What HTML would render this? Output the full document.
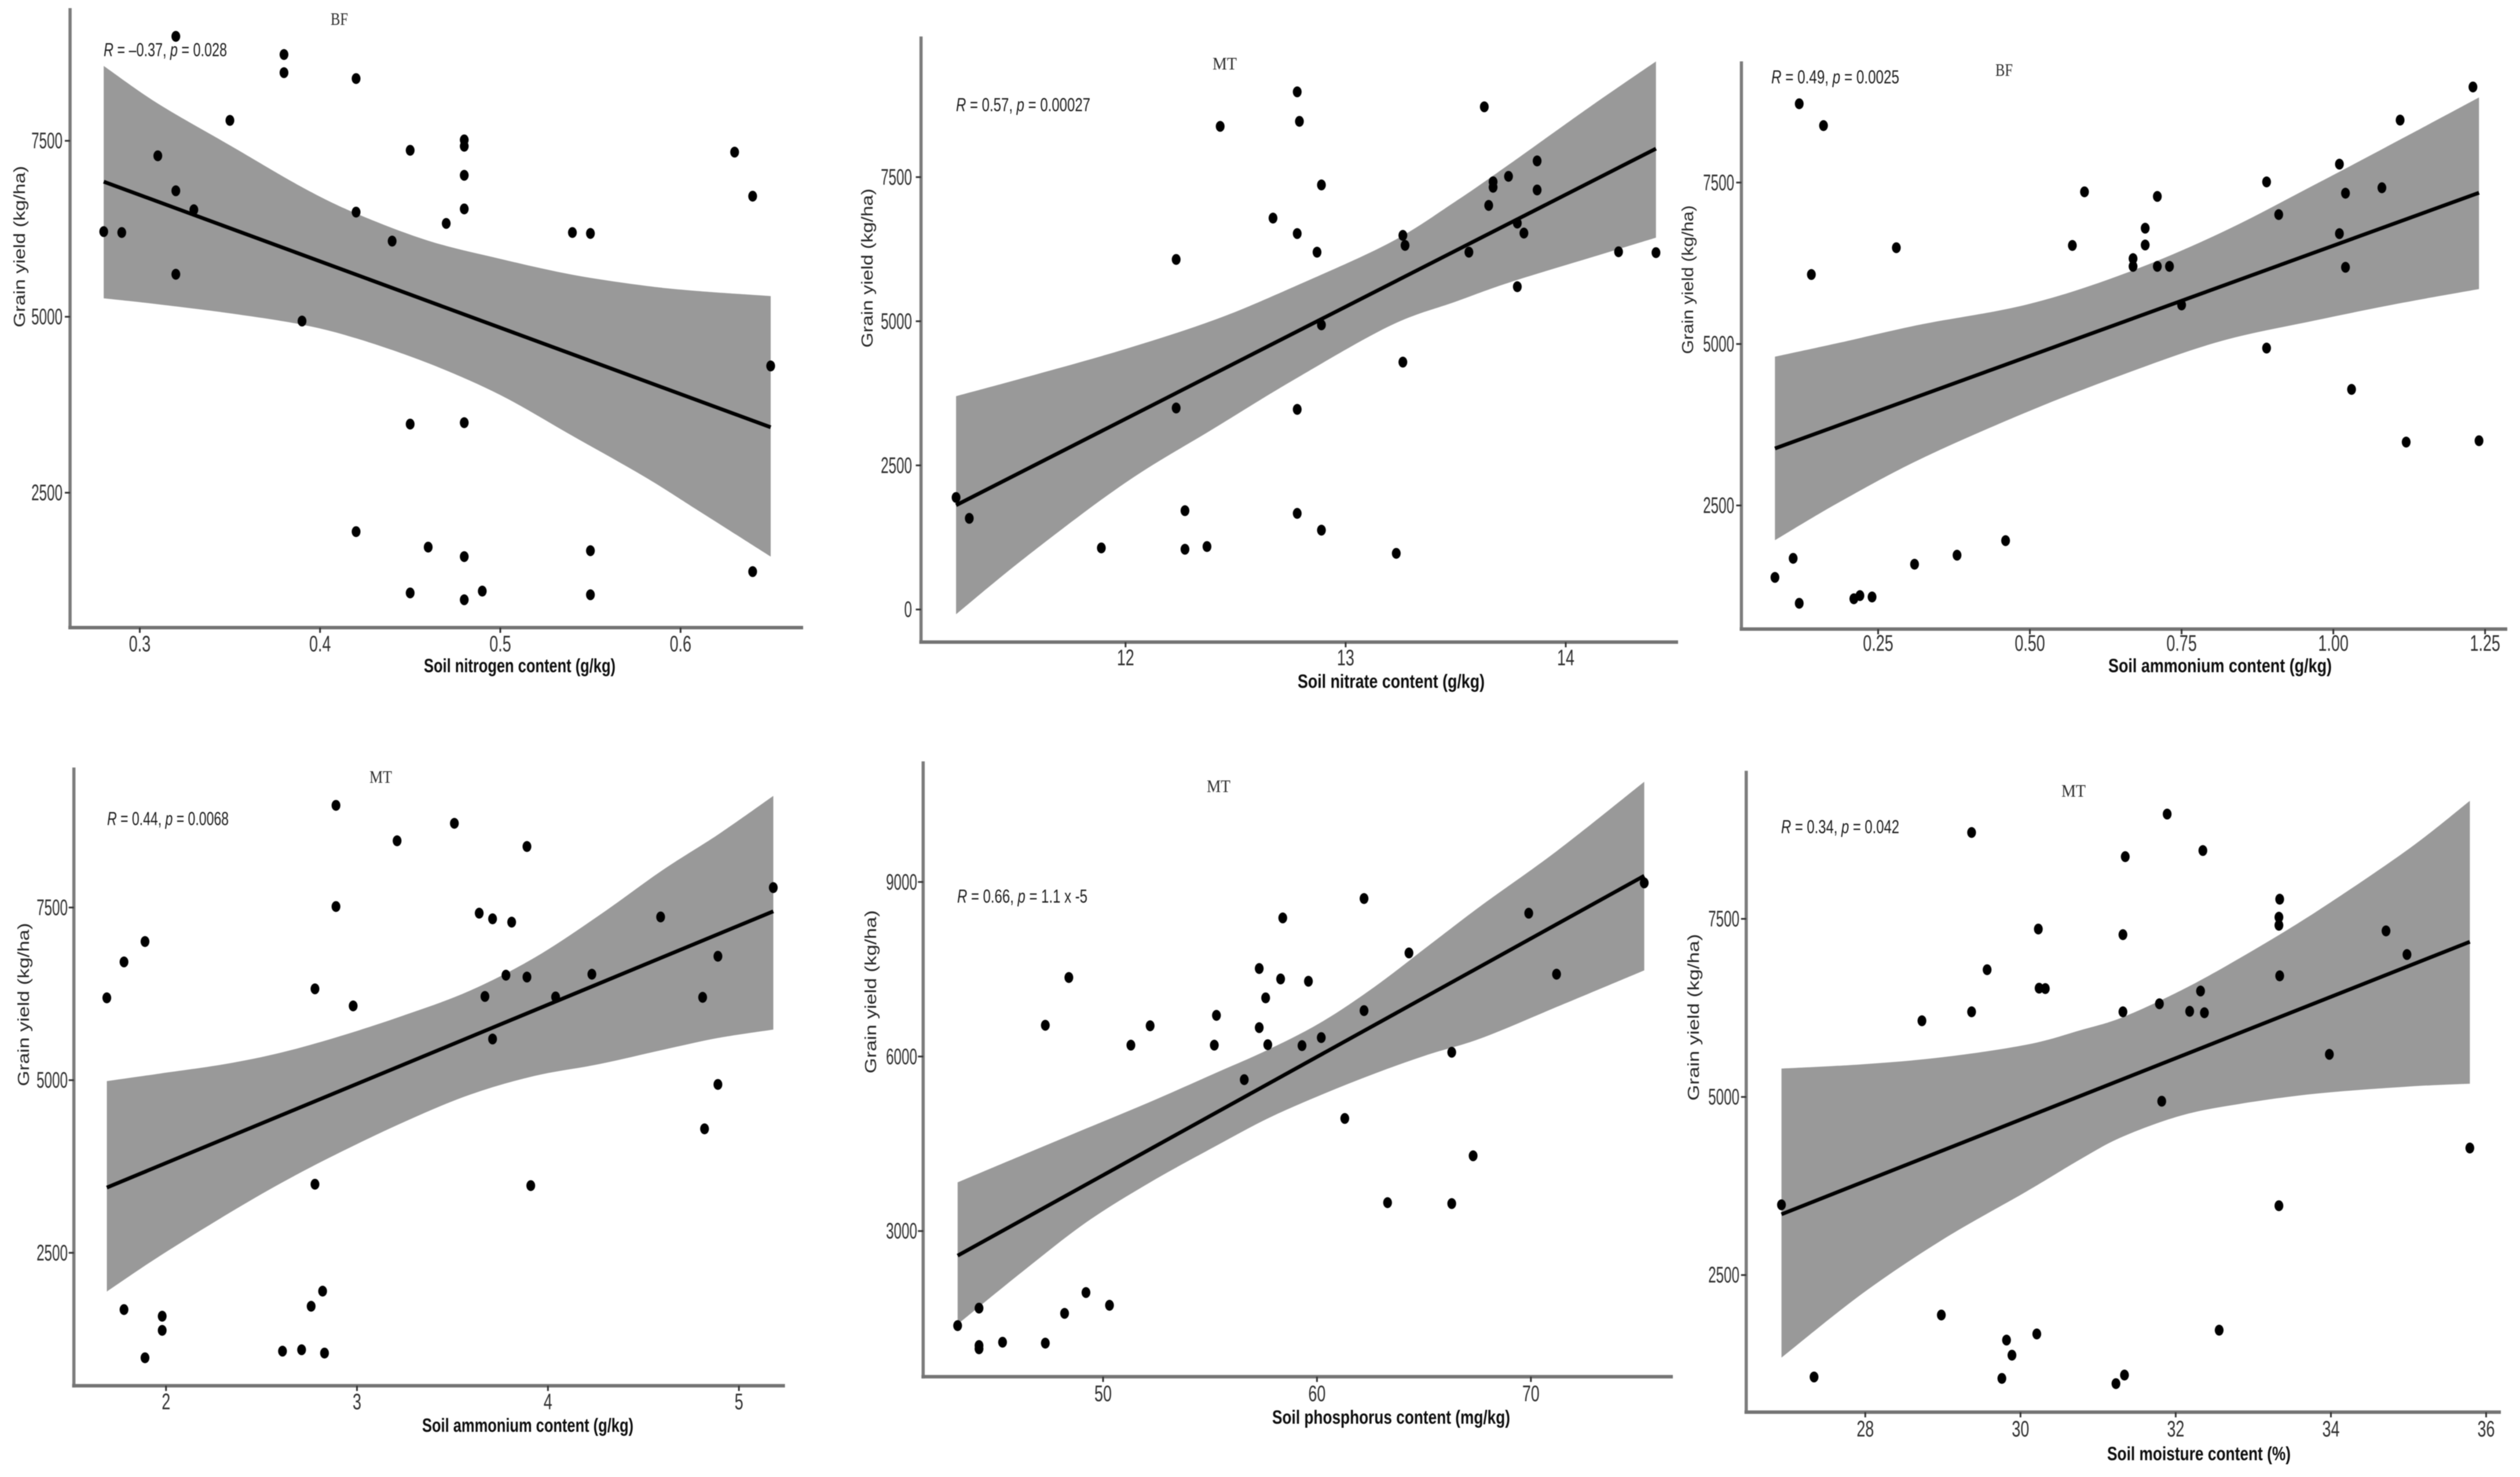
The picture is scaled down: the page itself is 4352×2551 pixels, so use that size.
<!DOCTYPE html>
<html lang="en">
<head>
<meta charset="utf-8">
<title>Grain yield versus soil properties</title>
<style>
  html, body { margin: 0; padding: 0; background: #ffffff; }
  #figure { display: block; width: 4352px; height: 2551px; filter: blur(0.8px); }
  .axis-title { font-family: "Liberation Sans", sans-serif; font-weight: 700; font-size: 33px; fill: #0c0c0c; }
  .y-title { font-family: "Liberation Sans", sans-serif; font-size: 28px; fill: #262626; }
  .note { font-family: "Liberation Sans", sans-serif; font-size: 32px; fill: #1c1c1c; }
  .note tspan { font-style: italic; }
  .panel-title { font-family: "Liberation Serif", serif; font-size: 31px; fill: #2c2c2c; }
  .tick-label { font-family: "Liberation Sans", sans-serif; font-size: 38.5px; fill: #2e2e2e; }
</style>
</head>
<body>
<svg id="figure" xmlns="http://www.w3.org/2000/svg" width="4352" height="2551" viewBox="0 0 4352 2551">
  <rect x="0" y="0" width="4352" height="2551" fill="#ffffff"/>
  <g id="marks"></g>

  <g>
    <text class="panel-title" x="571" y="43" textLength="30" lengthAdjust="spacingAndGlyphs">BF</text>
    <text class="note" x="179" y="97" textLength="213" lengthAdjust="spacingAndGlyphs"><tspan>R</tspan> = –0.37, <tspan>p</tspan> = 0.028</text>
    <text class="axis-title" x="732" y="1161" textLength="331" lengthAdjust="spacingAndGlyphs">Soil nitrogen content (g/kg)</text>
    <text class="y-title" text-anchor="middle" transform="translate(43,426) rotate(-90)" textLength="279" lengthAdjust="spacingAndGlyphs">Grain yield (kg/ha)</text>
  </g>
  <g>
    <text class="panel-title" x="2094" y="120" textLength="42" lengthAdjust="spacingAndGlyphs">MT</text>
    <text class="note" x="1651" y="192" textLength="232" lengthAdjust="spacingAndGlyphs"><tspan>R</tspan> = 0.57, <tspan>p</tspan> = 0.00027</text>
    <text class="axis-title" x="2241" y="1188" textLength="323" lengthAdjust="spacingAndGlyphs">Soil nitrate content (g/kg)</text>
    <text class="y-title" text-anchor="middle" transform="translate(1507,463) rotate(-90)" textLength="275" lengthAdjust="spacingAndGlyphs">Grain yield (kg/ha)</text>
  </g>
  <g>
    <text class="panel-title" x="3446" y="131" textLength="30" lengthAdjust="spacingAndGlyphs">BF</text>
    <text class="note" x="3059" y="144" textLength="221" lengthAdjust="spacingAndGlyphs"><tspan>R</tspan> = 0.49, <tspan>p</tspan> = 0.0025</text>
    <text class="axis-title" x="3641" y="1161" textLength="386" lengthAdjust="spacingAndGlyphs">Soil ammonium content (g/kg)</text>
    <text class="y-title" text-anchor="middle" transform="translate(2924,483) rotate(-90)" textLength="257" lengthAdjust="spacingAndGlyphs">Grain yield (kg/ha)</text>
  </g>
  <g>
    <text class="panel-title" x="638" y="1352" textLength="39" lengthAdjust="spacingAndGlyphs">MT</text>
    <text class="note" x="185" y="1425" textLength="210" lengthAdjust="spacingAndGlyphs"><tspan>R</tspan> = 0.44, <tspan>p</tspan> = 0.0068</text>
    <text class="axis-title" x="729" y="2473" textLength="365" lengthAdjust="spacingAndGlyphs">Soil ammonium content (g/kg)</text>
    <text class="y-title" text-anchor="middle" transform="translate(50,1735) rotate(-90)" textLength="282" lengthAdjust="spacingAndGlyphs">Grain yield (kg/ha)</text>
  </g>
  <g>
    <text class="panel-title" x="2084" y="1368" textLength="41" lengthAdjust="spacingAndGlyphs">MT</text>
    <text class="note" x="1653" y="1559" textLength="225" lengthAdjust="spacingAndGlyphs"><tspan>R</tspan> = 0.66, <tspan>p</tspan> = 1.1 x -5</text>
    <text class="axis-title" x="2197" y="2459" textLength="411" lengthAdjust="spacingAndGlyphs">Soil phosphorus content (mg/kg)</text>
    <text class="y-title" text-anchor="middle" transform="translate(1513,1713) rotate(-90)" textLength="282" lengthAdjust="spacingAndGlyphs">Grain yield (kg/ha)</text>
  </g>
  <g>
    <text class="panel-title" x="3560" y="1376" textLength="42" lengthAdjust="spacingAndGlyphs">MT</text>
    <text class="note" x="3076" y="1439" textLength="204" lengthAdjust="spacingAndGlyphs"><tspan>R</tspan> = 0.34, <tspan>p</tspan> = 0.042</text>
    <text class="axis-title" x="3639" y="2522" textLength="317" lengthAdjust="spacingAndGlyphs">Soil moisture content (%)</text>
    <text class="y-title" text-anchor="middle" transform="translate(2934,1757) rotate(-90)" textLength="288" lengthAdjust="spacingAndGlyphs">Grain yield (kg/ha)</text>
  </g>
</svg>

<script>
// ---- Soil nitrogen (BF) ----
const nitrogenX = [0.32,0.38,0.38,0.42,0.35,0.48,0.48,0.45,0.63,0.31,0.48,0.32,0.64,0.48,0.33,0.42,0.47,0.28,0.29,0.54,0.55,0.44,0.32,0.39,0.65,0.48,0.45,0.42,0.46,0.55,0.48,0.64,0.49,0.45,0.55,0.48];
const nitrogenY = [8984,8726,8468,8384,7790,7513,7423,7365,7339,7287,7010,6790,6713,6532,6520,6487,6326,6210,6197,6197,6184,6075,5604,4939,4301,3495,3475,1947,1727,1676,1592,1379,1102,1076,1050,979];
const nitrogenBandX = [0.28,0.31,0.35,0.39,0.42,0.46,0.5,0.54,0.58,0.61,0.65];
const nitrogenBandUpper = [8564,8030,7436,6842,6468,6081,5823,5597,5442,5365,5294];
const nitrogenBandLower = [5262,5178,5049,4888,4694,4340,3888,3308,2727,2243,1592];
const nitrogenFitX = [0.28,0.65];
const nitrogenFitY = [6919,3430];
const nitrogenXTicks = ["0.3","0.4","0.5","0.6"];
const nitrogenYTicks = ["2500","5000","7500"];

// ---- Soil nitrate (MT) ----
const nitrateX = [12.78,13.63,12.79,12.43,13.87,13.74,13.67,13.67,12.89,13.87,13.65,12.67,13.78,12.78,13.81,13.26,13.27,12.87,13.56,14.24,14.41,12.23,13.78,12.89,13.26,12.23,12.78,11.23,12.27,12.78,11.29,12.89,12.37,11.89,12.27,13.23];
const nitrateY = [8979,8719,8467,8380,7781,7513,7419,7324,7364,7277,7009,6789,6702,6521,6529,6489,6316,6198,6198,6205,6190,6072,5599,4937,4291,3495,3471,1943,1714,1667,1581,1376,1092,1068,1045,974];
const nitrateBandX = [11.23,11.55,12,12.41,12.76,13.2,13.5,13.75,14.11,14.41];
const nitrateBandUpper = [3700,4031,4519,5032,5590,6360,7080,7740,8719,9507];
const nitrateBandLower = [-82,919,2200,3160,3974,4918,5340,5680,6100,6450];
const nitrateFitX = [11.23,14.41];
const nitrateFitY = [1809,7994];
const nitrateXTicks = ["12","13","14"];
const nitrateYTicks = ["0","2500","5000","7500"];

// ---- Soil ammonium (BF) ----
const ammoniumBfX = [1.23,0.12,1.11,0.16,1.01,0.89,1.08,0.59,1.02,0.71,0.91,0.69,1.01,0.57,0.69,0.28,0.67,0.67,0.71,0.73,1.02,0.14,0.75,0.89,1.03,1.24,1.12,0.46,0.38,0.11,0.31,0.08,0.22,0.24,0.21,0.12];
const ammoniumBfY = [8980,8720,8467,8382,7785,7510,7419,7356,7335,7285,7004,6793,6709,6526,6533,6491,6322,6202,6202,6202,6188,6076,5605,4937,4297,3502,3481,1955,1730,1681,1590,1386,1104,1083,1055,985];
const ammoniumBfBandX = [0.08,0.187,0.32,0.495,0.654,0.812,0.972,1.115,1.24];
const ammoniumBfBandUpper = [4803,5021,5302,5611,6084,6710,7480,8190,8818];
const ammoniumBfBandLower = [1962,2556,3220,3946,4529,5037,5369,5640,5851];
const ammoniumBfFitX = [0.08,1.24];
const ammoniumBfFitY = [3383,7342];
const ammoniumBfXTicks = ["0.25","0.50","0.75","1.00","1.25"];
const ammoniumBfYTicks = ["2500","5000","7500"];

// ---- Soil ammonium (MT) ----
const ammoniumMtX = [2.89,3.51,3.21,3.89,5.18,2.89,3.64,4.59,3.71,3.81,1.89,1.78,4.89,3.78,4.23,3.89,2.78,3.67,4.04,4.81,1.69,2.98,3.71,4.89,4.82,2.78,3.91,2.82,2.76,1.78,1.98,1.98,2.71,2.61,2.83,1.89];
const ammoniumMtY = [8979,8719,8466,8383,7788,7514,7418,7363,7336,7288,7007,6712,6794,6520,6534,6493,6322,6212,6205,6199,6192,6075,5596,4938,4295,3493,3473,1945,1726,1678,1582,1377,1096,1076,1048,980];
const ammoniumMtBandX = [1.69,1.97,2.31,2.61,2.92,3.26,3.59,3.93,4.27,4.6,4.89,5.18];
const ammoniumMtBandUpper = [4986,5096,5233,5404,5644,5952,6294,6774,7390,8041,8555,9116];
const ammoniumMtBandLower = [1939,2459,3041,3521,3966,4411,4788,5062,5233,5438,5610,5733];
const ammoniumMtFitX = [1.69,5.18];
const ammoniumMtFitY = [3445,7445];
const ammoniumMtXTicks = ["2","3","4","5"];
const ammoniumMtYTicks = ["2500","5000","7500"];

// ---- Soil phosphorus (MT) ----
const phosphorusX = [75.3,62.2,69.9,58.4,64.3,57.3,71.2,48.4,58.3,59.6,57.6,62.2,55.3,57.3,47.3,52.2,60.2,57.7,59.3,55.2,51.3,66.3,56.6,61.3,67.3,63.3,66.3,49.2,50.3,44.2,48.2,43.2,45.3,47.3,44.2,44.2];
const phosphorusY = [8984,8715,8463,8382,7780,7512,7415,7358,7333,7293,7008,6789,6707,6496,6537,6528,6325,6203,6187,6195,6195,6073,5602,4935,4293,3488,3472,1943,1724,1675,1585,1374,1089,1073,1032,976];
const phosphorusBandX = [43.2,46.2,49.2,52.2,55.2,57.7,60.2,62.7,65.2,67.7,71.2,75.3];
const phosphorusBandUpper = [3837,4300,4760,5220,5707,6114,6590,7200,7900,8600,9528,10723];
const phosphorusBandLower = [1398,2293,3146,3837,4447,4935,5341,5707,6033,6317,6850,7480];
const phosphorusFitX = [43.2,75.3];
const phosphorusFitY = [2577,9106];
const phosphorusXTicks = ["50","60","70"];
const phosphorusYTicks = ["3000","6000","9000"];

// ---- Soil moisture (MT) ----
const moistureX = [31.89,29.37,32.35,31.35,33.34,33.33,33.33,34.71,30.23,31.32,34.98,29.57,33.34,30.24,30.32,32.32,31.79,31.32,32.18,32.37,29.37,28.73,33.98,31.82,35.79,26.92,33.33,28.98,32.56,30.21,29.82,29.89,31.34,27.34,29.76,31.23];
const moistureY = [8971,8712,8459,8373,7776,7523,7410,7331,7357,7278,6999,6786,6700,6527,6521,6487,6308,6195,6202,6182,6195,6069,5598,4940,4283,3486,3473,1939,1726,1673,1587,1375,1096,1069,1049,976];
const moistureBandX = [26.92,27.96,29,30.08,30.8,31.32,32.07,32.82,33.81,35,35.79];
const moistureBandUpper = [5398,5458,5558,5734,5945,6121,6496,6945,7600,8479,9157];
const moistureBandLower = [1341,2238,3000,3675,4143,4444,4739,4902,5046,5146,5186];
const moistureFitX = [26.92,35.79];
const moistureFitY = [3353,7178];
const moistureXTicks = ["28","30","32","34","36"];
const moistureYTicks = ["2500","5000","7500"];

const SVG_NS = "http://www.w3.org/2000/svg";
const marksLayer = document.getElementById("marks");

function linearScale(d0, d1, r0, r1) {
  return function (v) { return r0 + (v - d0) * (r1 - r0) / (d1 - d0); };
}

function make(tag, attrs, parent) {
  const el = document.createElementNS(SVG_NS, tag);
  for (const k in attrs) { el.setAttribute(k, attrs[k]); }
  parent.appendChild(el);
  return el;
}

// Smooth path through points (Catmull-Rom converted to cubic Beziers).
function smoothSegments(pts) {
  let d = "";
  for (let i = 0; i < pts.length - 1; i++) {
    const p0 = pts[Math.max(i - 1, 0)];
    const p1 = pts[i];
    const p2 = pts[i + 1];
    const p3 = pts[Math.min(i + 2, pts.length - 1)];
    const c1x = p1[0] + (p2[0] - p0[0]) / 6;
    const c1y = p1[1] + (p2[1] - p0[1]) / 6;
    const c2x = p2[0] - (p3[0] - p1[0]) / 6;
    const c2y = p2[1] - (p3[1] - p1[1]) / 6;
    d += " C" + c1x.toFixed(1) + " " + c1y.toFixed(1) + " " + c2x.toFixed(1) + " " + c2y.toFixed(1) + " " + p2[0].toFixed(1) + " " + p2[1].toFixed(1);
  }
  return d;
}

function drawPanel(cfg) {
  const x = linearScale(cfg.xd[0], cfg.xd[1], cfg.xr[0], cfg.xr[1]);
  const y = linearScale(cfg.yd[0], cfg.yd[1], cfg.yr[0], cfg.yr[1]);
  const group = make("g", {}, marksLayer);
  
  

  // Confidence band
  const upperPts = cfg.bandX.map(function (v, i) { return [x(v), y(cfg.bandUpper[i])]; });
  const lowerPts = cfg.bandX.map(function (v, i) { return [x(v), y(cfg.bandLower[i])]; }).reverse();
  const bandPath = "M" + upperPts[0][0].toFixed(1) + " " + upperPts[0][1].toFixed(1) + smoothSegments(upperPts) +
    " L" + lowerPts[0][0].toFixed(1) + " " + lowerPts[0][1].toFixed(1) + smoothSegments(lowerPts) + " Z";
  const band = make("path", { d: bandPath, fill: "#999999" }, group);
  
  

  // Regression line
  const fit = make("line", {
    x1: x(cfg.fitX[0]), y1: y(cfg.fitY[0]),
    x2: x(cfg.fitX[1]), y2: y(cfg.fitY[1]),
    stroke: "#000000", "stroke-width": 6.5
  }, group);
  
  

  // Data points
  cfg.px.forEach(function (v, i) {
    const dot = make("ellipse", { cx: x(v), cy: y(cfg.py[i]), rx: 7.6, ry: 9.4, fill: "#000000" }, group);
    
    
  });

  // Axis lines
  const yAxis = make("line", { x1: cfg.left, y1: cfg.top, x2: cfg.left, y2: cfg.bottom + 3, stroke: "#7c7c7c", "stroke-width": 5.5 }, group);
  
  
  const xAxis = make("line", { x1: cfg.left - 3, y1: cfg.bottom, x2: cfg.right, y2: cfg.bottom, stroke: "#747474", "stroke-width": 6 }, group);
  
  

  // X ticks and labels
  cfg.xTicks.forEach(function (label) {
    const px = x(parseFloat(label));
    const tick = make("line", { x1: px, y1: cfg.bottom, x2: px, y2: cfg.bottom + 9, stroke: "#333333", "stroke-width": 3 }, group);
    
    
    const text = make("text", {
      class: "tick-label", "text-anchor": "middle",
      transform: "translate(" + px + "," + cfg.xLabelY + ") scale(0.7,1)"
    }, group);
    text.textContent = label;
    
    
  });

  // Y ticks and labels
  cfg.yTicks.forEach(function (label) {
    const py = y(parseFloat(label));
    const tick = make("line", { x1: cfg.left - 9, y1: py, x2: cfg.left, y2: py, stroke: "#333333", "stroke-width": 3 }, group);
    
    
    const text = make("text", {
      class: "tick-label", "text-anchor": "end",
      transform: "translate(" + cfg.yLabelX + "," + (py + 13) + ") scale(0.63,1)"
    }, group);
    text.textContent = label;
    
    
  });
}

drawPanel({ name: "nitrogen", px: nitrogenX, py: nitrogenY, bandX: nitrogenBandX, bandUpper: nitrogenBandUpper, bandLower: nitrogenBandLower, fitX: nitrogenFitX, fitY: nitrogenFitY, xTicks: nitrogenXTicks, yTicks: nitrogenYTicks,
  xd: [0.3, 0.6], xr: [241.4, 1175.3], yd: [7500, 2500], yr: [243.2, 851], left: 121, right: 1387, top: 14, bottom: 1084, xLabelY: 1125, yLabelX: 108 });
drawPanel({ name: "nitrate", px: nitrateX, py: nitrateY, bandX: nitrateBandX, bandUpper: nitrateBandUpper, bandLower: nitrateBandLower, fitX: nitrateFitX, fitY: nitrateFitY, xTicks: nitrateXTicks, yTicks: nitrateYTicks,
  xd: [12, 14], xr: [1943.8, 2704], yd: [7500, 0], yr: [305.9, 1052.7], left: 1590.6, right: 2898, top: 63, bottom: 1109, xLabelY: 1149, yLabelX: 1575 });
drawPanel({ name: "ammonium-bf", px: ammoniumBfX, py: ammoniumBfY, bandX: ammoniumBfBandX, bandUpper: ammoniumBfBandUpper, bandLower: ammoniumBfBandLower, fitX: ammoniumBfFitX, fitY: ammoniumBfFitY, xTicks: ammoniumBfXTicks, yTicks: ammoniumBfYTicks,
  xd: [0.25, 1.25], xr: [3243.5, 4291.7], yd: [7500, 2500], yr: [315.3, 873], left: 3007.4, right: 4330, top: 106, bottom: 1086.5, xLabelY: 1124, yLabelX: 2995 });
drawPanel({ name: "ammonium-mt", px: ammoniumMtX, py: ammoniumMtY, bandX: ammoniumMtBandX, bandUpper: ammoniumMtBandUpper, bandLower: ammoniumMtBandLower, fitX: ammoniumMtFitX, fitY: ammoniumMtFitY, xTicks: ammoniumMtXTicks, yTicks: ammoniumMtYTicks,
  xd: [2, 5], xr: [286.7, 1276.1], yd: [7500, 2500], yr: [1567.4, 2163.8], left: 127.6, right: 1355.6, top: 1325.6, bottom: 2393.4, xLabelY: 2434, yLabelX: 117 });
drawPanel({ name: "phosphorus", px: phosphorusX, py: phosphorusY, bandX: phosphorusBandX, bandUpper: phosphorusBandUpper, bandLower: phosphorusBandLower, fitX: phosphorusFitX, fitY: phosphorusFitY, xTicks: phosphorusXTicks, yTicks: phosphorusYTicks,
  xd: [50, 70], xr: [1905, 2643.8], yd: [9000, 3000], yr: [1523.3, 2126.2], left: 1594.3, right: 2889, top: 1315, bottom: 2377.8, xLabelY: 2420, yLabelX: 1584 });
drawPanel({ name: "moisture", px: moistureX, py: moistureY, bandX: moistureBandX, bandUpper: moistureBandUpper, bandLower: moistureBandLower, fitX: moistureFitX, fitY: moistureFitY, xTicks: moistureXTicks, yTicks: moistureYTicks,
  xd: [28, 36], xr: [3221.3, 4293.5], yd: [7500, 2500], yr: [1587, 2202.2], left: 3015.7, right: 4319, top: 1331.3, bottom: 2439, xLabelY: 2481, yLabelX: 3004 });
</script>
</body>
</html>
